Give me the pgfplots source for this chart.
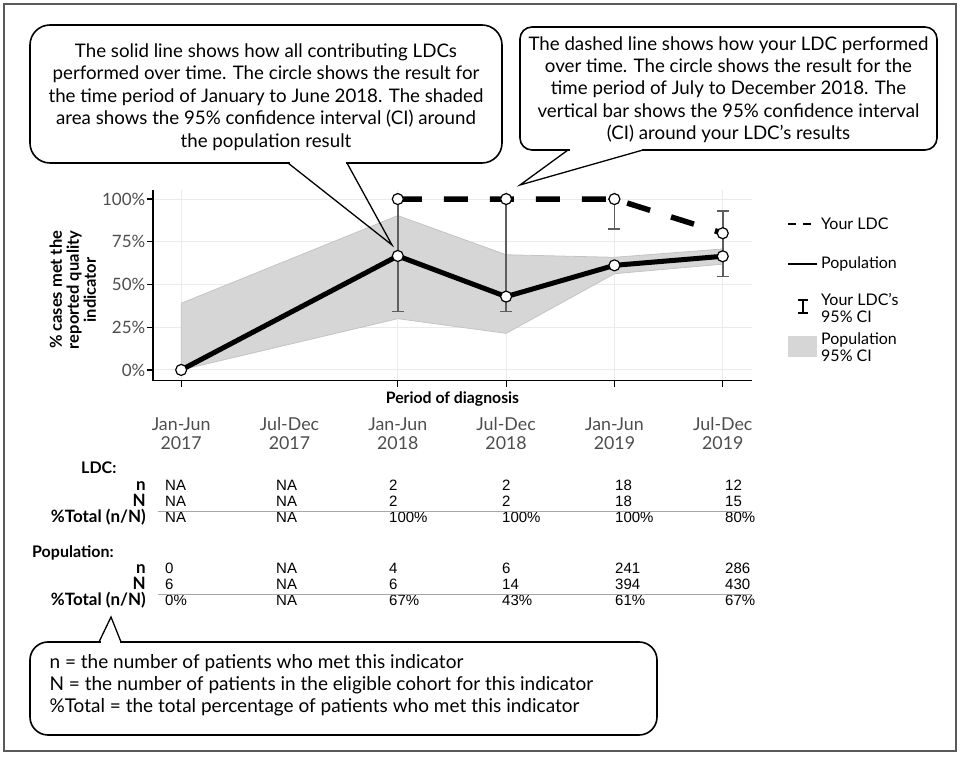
\documentclass[border=0pt]{standalone}
\usepackage{fontspec}
\setmainfont{Lato}
\newfontfamily\tabfont{Liberation Sans}
\usepackage{pgfplots}
\pgfplotsset{compat=1.18}

\definecolor{tickgray}{HTML}{4D4D4D}
\definecolor{gridgray}{HTML}{EBEBEB}
\definecolor{band}{HTML}{D6D6D6}
\definecolor{bandedge}{HTML}{C4C4C4}
\definecolor{errgray}{HTML}{5E5E5E}
\definecolor{framegray}{HTML}{5A5A5A}

% one table row: y, then six values
\newcommand{\tabrow}[7]{%
  \foreach \cx/\v in {165/{#2}, 276/{#3}, 389/{#4}, 502/{#5}, 615/{#6}, 725/{#7}}
    \node[anchor=mid west, inner sep=0pt, font=\tabfont\fontsize{15}{15}\selectfont] at (\cx,#1) {\v};}
\newcommand{\rowlab}[2]{%
  \node[anchor=mid east, inner sep=0pt, font=\bfseries\fontsize{17}{17}\selectfont] at (146,#1) {#2};}

\begin{document}
\begin{tikzpicture}
\useasboundingbox (0pt,0pt) rectangle (961pt,757pt);

\begin{axis}[
    at={(153pt,376.3pt)}, anchor=south west,
    scale only axis, width=599pt, height=190.7pt,
    xmin=-0.26, xmax=5.27, ymin=-6.3, ymax=105.3,
    clip=false,
    axis lines*=left,
    axis line style={line width=1.5pt, black},
    tick align=outside,
    major tick length=6pt,
    tick style={line width=1.2pt, black},
    xtick={0,2,3,4,5},
    xticklabels={\strut Jan-Jun\\2017, \strut Jan-Jun\\2018, \strut Jul-Dec\\2018,
                 \strut Jan-Jun\\2019, \strut Jul-Dec\\2019},
    extra x ticks={1},
    extra x tick labels={\strut Jul-Dec\\2017},
    extra x tick style={grid=none, major tick length=0pt, xticklabel style={yshift=-6pt}},
    ytick={0,25,50,75,100},
    yticklabels={0\%,25\%,50\%,75\%,100\%},
    grid=major,
    major grid style={gridgray, line width=1pt},
    xticklabel style={align=center, font=\fontsize{17.8}{19}\selectfont, text=tickgray, yshift=-27pt},
    yticklabel style={font=\fontsize{17}{17}\selectfont, text=tickgray, inner xsep=1.5pt},
    xlabel={Period of diagnosis},
    xlabel style={at={(axis description cs:0.5,0)}, anchor=center, yshift=-18pt,
        font=\bfseries\fontsize{15.8}{15.8}\selectfont},
    ylabel={\% cases met the\\reported quality\\indicator},
    ylabel style={at={(axis description cs:-0.134,0.476)}, anchor=center, align=center,
        font=\bfseries\fontsize{16.5}{17}\selectfont},
]

% population 95% CI
\addplot[fill=band, draw=bandedge, line width=0.8pt] coordinates {
    (0,39.0) (2,90.3) (3,67.4) (4,65.9) (5,70.8)
    (5,61.9) (4,56.3) (3,21.4) (2,30.0) (0,0)
} -- cycle;

% your LDC 95% CI, one bar per period
\pgfplotsset{cibar/.style={errgray, line width=1.5pt, mark=-, mark size=6pt,
    mark options={solid, errgray, line width=1.5pt}, forget plot}}
\addplot[cibar] coordinates {(2,34.2) (2,100)};
\addplot[cibar] coordinates {(3,34.2) (3,100)};
\addplot[cibar] coordinates {(4,82.4) (4,100)};
\addplot[cibar] coordinates {(5,54.8) (5,93.0)};

% population
\addplot[black, line width=5pt, line join=round,
    mark=*, mark size=5.5pt, mark options={solid, fill=white, draw=black, line width=1.2pt}]
coordinates {(0,0) (2,66.7) (3,42.9) (4,61.2) (5,66.5)};

% your LDC
\addplot[black, line width=5.5pt, dash pattern=on 24pt off 22pt,
    mark=*, mark size=5.5pt, mark options={solid, fill=white, draw=black, line width=1.2pt}]
coordinates {(2,100) (3,100) (4,100) (5,80)};

\end{axis}

\begin{scope}[x=1pt, y=-1pt, shift={(0pt,757pt)}]
\draw[framegray, line width=1.5pt] (4,4) rectangle (956,751);

% legend
\draw[line width=1.5pt] (788,224)--(796,224) (803,224)--(811,224);
\draw[line width=1.5pt] (788,264)--(817,264);
\draw[line width=2pt] (803,300)--(803,313) (798,300)--(808,300) (798,313)--(808,313);
\fill[band] (788,336) rectangle (817,357);
\begin{scope}[every node/.style={anchor=west, inner sep=0pt, align=left, font=\fontsize{16}{17}\selectfont}]
\node at (821,224) {Your LDC};
\node at (821,264) {Population};
\node at (821,308) {Your LDC's\\95\% CI};
\node at (821,347) {Population\\95\% CI};
\end{scope}

% callout 1
\draw[line width=1.6pt, fill=white, rounded corners=20pt] (30,25) rectangle (502,163);
\fill[white] (289.5,161) rectangle (345.5,165);
\draw[line width=1.3pt] (288,163)--(392,245)--(347,163);
\node[align=center, font=\fontsize{18.7}{22.5}\selectfont] at (266,97)
  {The solid line shows how all contributing LDCs\\
   performed over time. The circle shows the result for\\
   the time period of January to June 2018. The shaded\\
   area shows the 95\% confidence interval (CI) around\\
   the population result};

% callout 2
\draw[line width=1.6pt, fill=white, rounded corners=12pt] (520,27) rectangle (937,150);
\fill[white] (569.5,148) rectangle (641.5,152);
\draw[line width=1.3pt] (568,150)--(520,185)--(643,150);
\node[align=center, font=\fontsize{18.7}{22.3}\selectfont] at (728.5,89.5)
  {The dashed line shows how your LDC performed\\
   over time. The circle shows the result for the\\
   time period of July to December 2018. The\\
   vertical bar shows the 95\% confidence interval\\
   (CI) around your LDC’s results};

% table
\node[anchor=mid west, inner sep=0pt, font=\bfseries\fontsize{16}{16}\selectfont] at (81,471) {LDC:};
\rowlab{488}{n}
\rowlab{504}{N}
\rowlab{520}{\%Total (n/N)}
\tabrow{488}{NA}{NA}{2}{2}{18}{12}
\tabrow{504}{NA}{NA}{2}{2}{18}{15}
\tabrow{520}{NA}{NA}{100\%}{100\%}{100\%}{80\%}
\draw[gray!70, line width=1.3pt] (158,511.5)--(752,511.5);

\node[anchor=mid west, inner sep=0pt, font=\bfseries\fontsize{16}{16}\selectfont] at (32,555) {Population:};
\rowlab{571}{n}
\rowlab{587}{N}
\rowlab{603}{\%Total (n/N)}
\tabrow{571}{0}{NA}{4}{6}{241}{286}
\tabrow{587}{6}{NA}{6}{14}{394}{430}
\tabrow{603}{0\%}{NA}{67\%}{43\%}{61\%}{67\%}
\draw[gray!70, line width=1.3pt] (158,594.5)--(752,594.5);

% callout 3
\draw[line width=1.6pt, fill=white, rounded corners=18pt] (30,642) rectangle (657,735);
\fill[white] (100.5,640) rectangle (119.5,644);
\draw[line width=1.3pt] (99,642)--(111,617)--(121,642);
\node[anchor=west, align=left, font=\fontsize{19}{22}\selectfont] at (46,685)
  {n = the number of patients who met this indicator\\
   N = the number of patients in the eligible cohort for this indicator\\
   \%Total = the total percentage of patients who met this indicator};
\end{scope}

\end{tikzpicture}
\end{document}
